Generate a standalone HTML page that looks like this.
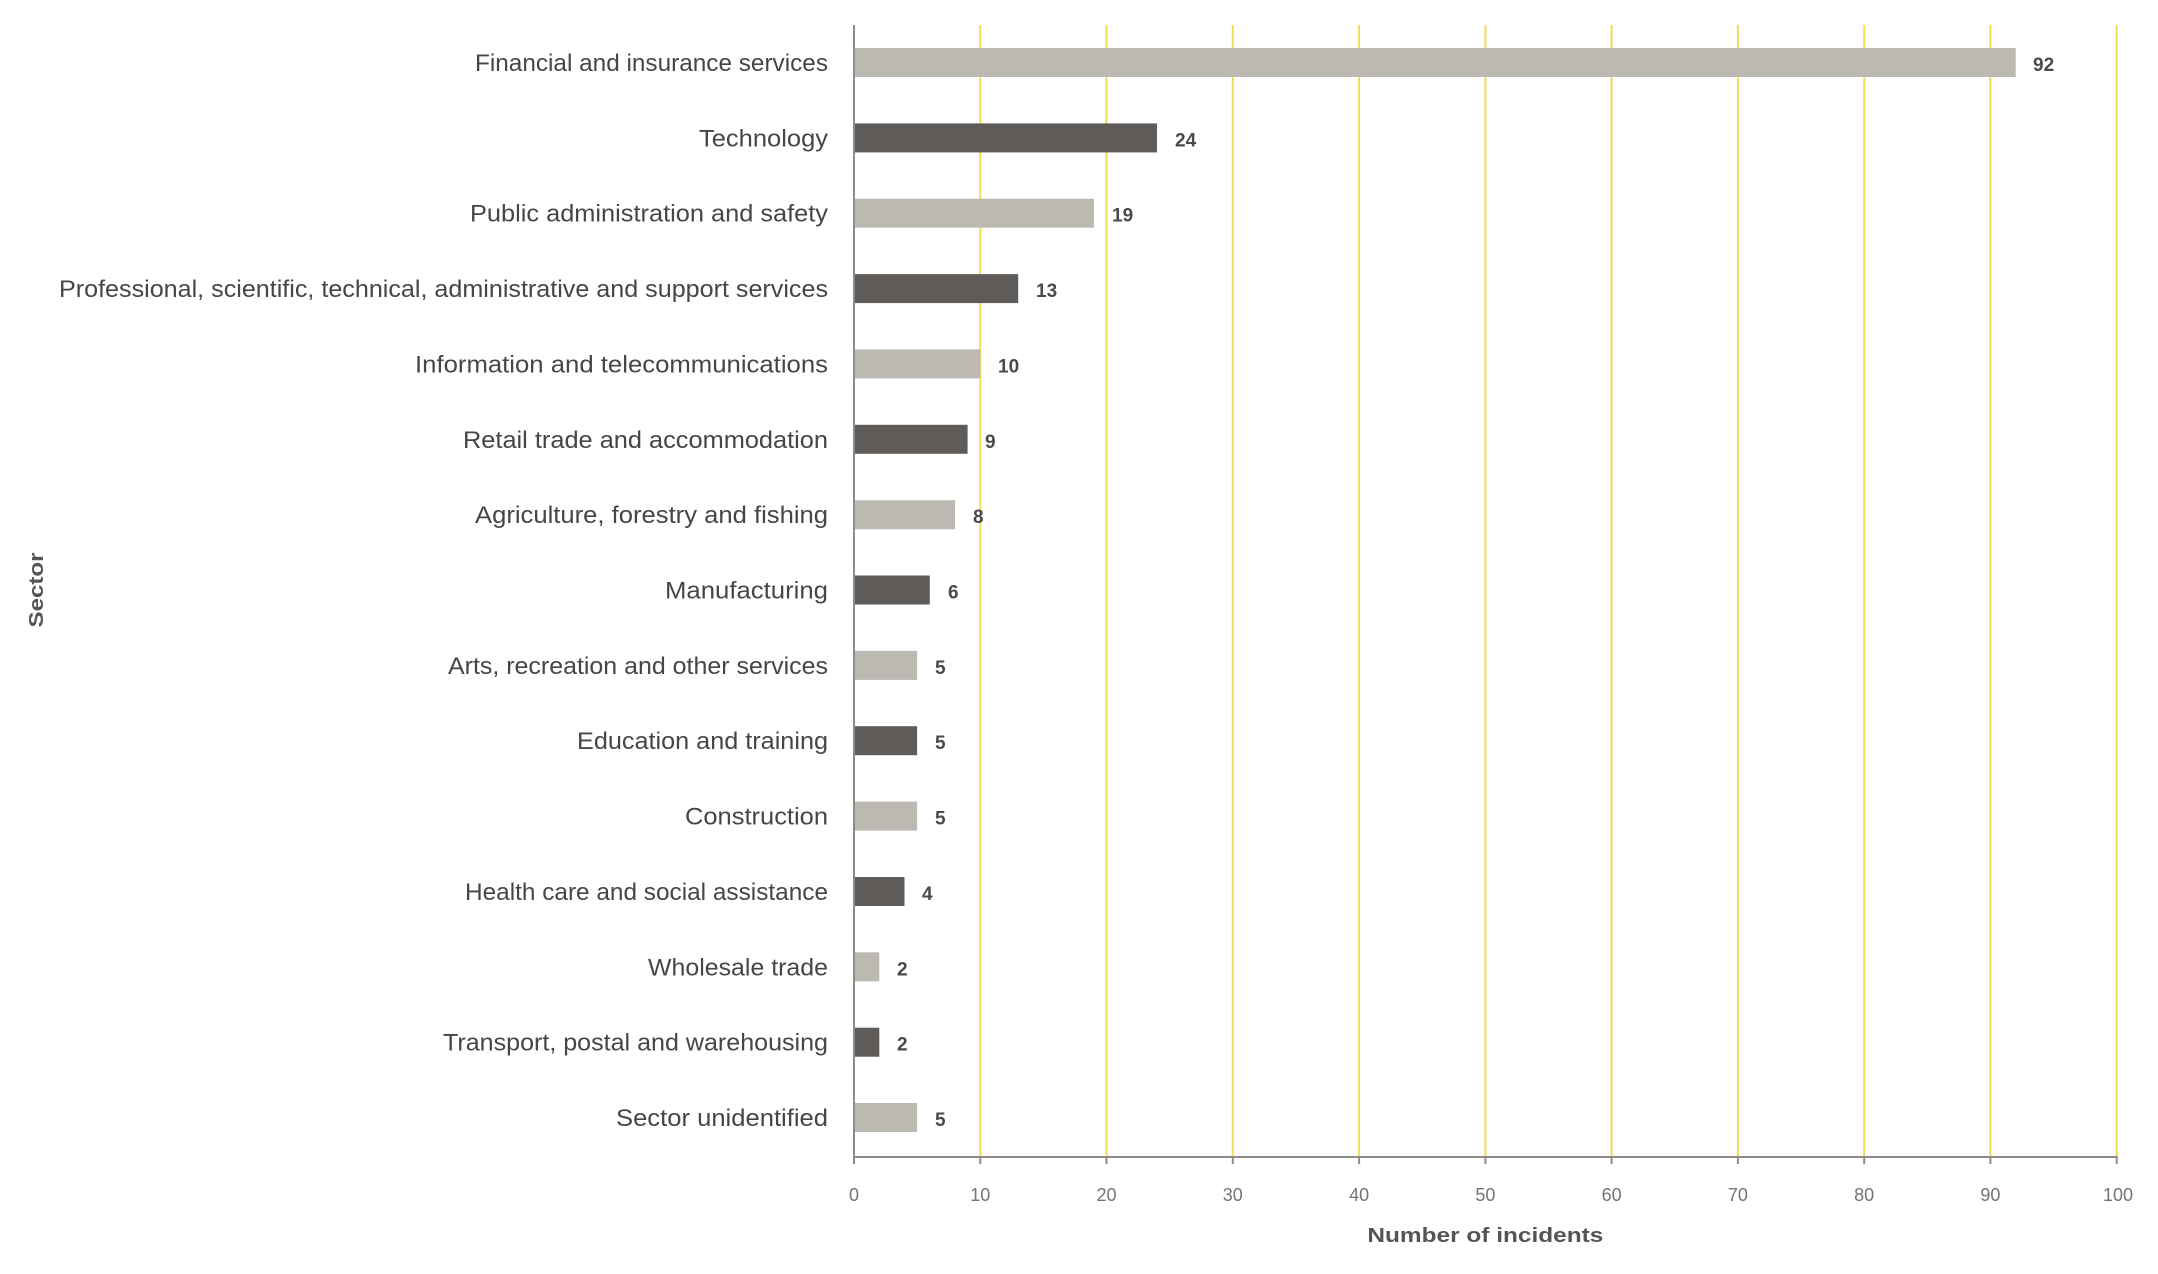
<!DOCTYPE html>
<html>
<head>
<meta charset="utf-8">
<style>
  html, body { margin: 0; padding: 0; background: #ffffff; }
  svg { display: block; }
  .cat { font-family: "Liberation Sans", sans-serif; font-size: 24px; fill: #464646; }
  .val { font-family: "Liberation Sans", sans-serif; font-size: 19px; font-weight: bold; fill: #4a4a4a; }
  .tick { font-family: "Liberation Sans", sans-serif; font-size: 18px; fill: #747474; }
  .title { font-family: "Liberation Sans", sans-serif; font-size: 20px; font-weight: bold; fill: #555555; }
</style>
</head>
<body>
<svg width="2158" height="1274" viewBox="0 0 2158 1274" xmlns="http://www.w3.org/2000/svg">
  <rect x="0" y="0" width="2158" height="1274" fill="#ffffff"/>

  <!-- gridlines -->
  <g stroke="#f1dc55" stroke-width="2">
    <line x1="980.3" y1="25" x2="980.3" y2="1157"/>
    <line x1="1106.5" y1="25" x2="1106.5" y2="1157"/>
    <line x1="1232.8" y1="25" x2="1232.8" y2="1157"/>
    <line x1="1359.1" y1="25" x2="1359.1" y2="1157"/>
    <line x1="1485.4" y1="25" x2="1485.4" y2="1157"/>
    <line x1="1611.6" y1="25" x2="1611.6" y2="1157"/>
    <line x1="1737.9" y1="25" x2="1737.9" y2="1157"/>
    <line x1="1864.2" y1="25" x2="1864.2" y2="1157"/>
    <line x1="1990.4" y1="25" x2="1990.4" y2="1157"/>
    <line x1="2116.7" y1="25" x2="2116.7" y2="1157"/>
  </g>

  <!-- bars -->
  <g>
    <rect x="854" y="48" width="1161.7" height="29" fill="#bcb9b2"/>
    <rect x="854" y="123.4" width="303" height="29" fill="#5e5b59"/>
    <rect x="854" y="198.7" width="239.9" height="29" fill="#bcb9b2"/>
    <rect x="854" y="274.1" width="164.2" height="29" fill="#5e5b59"/>
    <rect x="854" y="349.4" width="126.3" height="29" fill="#bcb9b2"/>
    <rect x="854" y="424.8" width="113.6" height="29" fill="#5e5b59"/>
    <rect x="854" y="500.2" width="101" height="29" fill="#bcb9b2"/>
    <rect x="854" y="575.5" width="75.8" height="29" fill="#5e5b59"/>
    <rect x="854" y="650.9" width="63.1" height="29" fill="#bcb9b2"/>
    <rect x="854" y="726.2" width="63.1" height="29" fill="#5e5b59"/>
    <rect x="854" y="801.6" width="63.1" height="29" fill="#bcb9b2"/>
    <rect x="854" y="877" width="50.5" height="29" fill="#5e5b59"/>
    <rect x="854" y="952.3" width="25.3" height="29" fill="#bcb9b2"/>
    <rect x="854" y="1027.7" width="25.3" height="29" fill="#5e5b59"/>
    <rect x="854" y="1103" width="63.1" height="29" fill="#bcb9b2"/>
  </g>

  <!-- axes -->
  <g stroke="#8c8c8c" stroke-width="2">
    <line x1="854" y1="25" x2="854" y2="1164"/>
    <line x1="853" y1="1157" x2="2117.7" y2="1157"/>
    <line x1="980.3" y1="1157" x2="980.3" y2="1164"/>
    <line x1="1106.5" y1="1157" x2="1106.5" y2="1164"/>
    <line x1="1232.8" y1="1157" x2="1232.8" y2="1164"/>
    <line x1="1359.1" y1="1157" x2="1359.1" y2="1164"/>
    <line x1="1485.4" y1="1157" x2="1485.4" y2="1164"/>
    <line x1="1611.6" y1="1157" x2="1611.6" y2="1164"/>
    <line x1="1737.9" y1="1157" x2="1737.9" y2="1164"/>
    <line x1="1864.2" y1="1157" x2="1864.2" y2="1164"/>
    <line x1="1990.4" y1="1157" x2="1990.4" y2="1164"/>
    <line x1="2116.7" y1="1157" x2="2116.7" y2="1164"/>
  </g>

  <!-- category labels -->
  <g class="cat" text-anchor="end">
    <text x="828" y="71" textLength="353" lengthAdjust="spacingAndGlyphs">Financial and insurance services</text>
    <text x="828" y="146.4" textLength="129" lengthAdjust="spacingAndGlyphs">Technology</text>
    <text x="828" y="221.7" textLength="358" lengthAdjust="spacingAndGlyphs">Public administration and safety</text>
    <text x="828" y="297.1" textLength="769" lengthAdjust="spacingAndGlyphs">Professional, scientific, technical, administrative and support services</text>
    <text x="828" y="372.4" textLength="413" lengthAdjust="spacingAndGlyphs">Information and telecommunications</text>
    <text x="828" y="447.8" textLength="365" lengthAdjust="spacingAndGlyphs">Retail trade and accommodation</text>
    <text x="828" y="523.2" textLength="353" lengthAdjust="spacingAndGlyphs">Agriculture, forestry and fishing</text>
    <text x="828" y="598.5" textLength="163" lengthAdjust="spacingAndGlyphs">Manufacturing</text>
    <text x="828" y="673.9" textLength="380" lengthAdjust="spacingAndGlyphs">Arts, recreation and other services</text>
    <text x="828" y="749.2" textLength="251" lengthAdjust="spacingAndGlyphs">Education and training</text>
    <text x="828" y="824.6" textLength="143" lengthAdjust="spacingAndGlyphs">Construction</text>
    <text x="828" y="900" textLength="363" lengthAdjust="spacingAndGlyphs">Health care and social assistance</text>
    <text x="828" y="975.3" textLength="180" lengthAdjust="spacingAndGlyphs">Wholesale trade</text>
    <text x="828" y="1050.7" textLength="385" lengthAdjust="spacingAndGlyphs">Transport, postal and warehousing</text>
    <text x="828" y="1126" textLength="212" lengthAdjust="spacingAndGlyphs">Sector unidentified</text>
  </g>

  <!-- value labels -->
  <g class="val">
    <text x="2033" y="71">92</text>
    <text x="1175" y="146.4">24</text>
    <text x="1112" y="221.7">19</text>
    <text x="1036" y="297.1">13</text>
    <text x="998" y="372.4">10</text>
    <text x="985" y="447.8">9</text>
    <text x="973" y="523.2">8</text>
    <text x="948" y="598.5">6</text>
    <text x="935" y="673.9">5</text>
    <text x="935" y="749.2">5</text>
    <text x="935" y="824.6">5</text>
    <text x="922" y="900">4</text>
    <text x="897" y="975.3">2</text>
    <text x="897" y="1050.7">2</text>
    <text x="935" y="1126">5</text>
  </g>

  <!-- tick labels -->
  <g class="tick" text-anchor="middle">
    <text x="854" y="1201">0</text>
    <text x="980.3" y="1201">10</text>
    <text x="1106.5" y="1201">20</text>
    <text x="1232.8" y="1201">30</text>
    <text x="1359.1" y="1201">40</text>
    <text x="1485.4" y="1201">50</text>
    <text x="1611.6" y="1201">60</text>
    <text x="1737.9" y="1201">70</text>
    <text x="1864.2" y="1201">80</text>
    <text x="1990.4" y="1201">90</text>
    <text x="2118" y="1201">100</text>
  </g>

  <!-- axis titles -->
  <text class="title" x="1485.4" y="1242" text-anchor="middle" textLength="236" lengthAdjust="spacingAndGlyphs">Number of incidents</text>
  <text class="title" x="0" y="0" text-anchor="middle" textLength="75" lengthAdjust="spacingAndGlyphs" transform="translate(43,590) rotate(-90)">Sector</text>
</svg>
</body>
</html>
